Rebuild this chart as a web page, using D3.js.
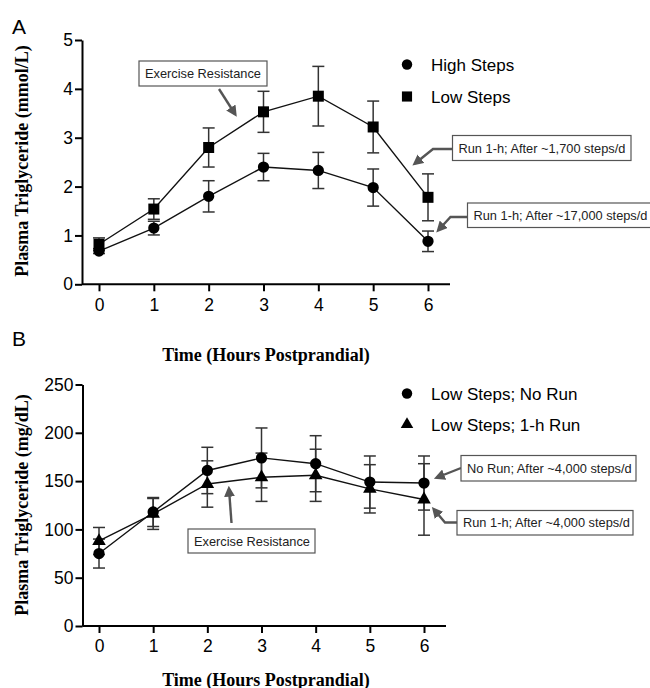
<!DOCTYPE html>
<html>
<head>
<meta charset="utf-8">
<script src="https://cdn.jsdelivr.net/npm/d3@7"></script>
<style>
  body { margin: 0; background: #fff; }
  svg { display: block; }
  .tick text { font-family: "Liberation Sans", Arial, sans-serif; font-size: 17.5px; fill: #000; }
  .axis path, .axis line { stroke: #000; stroke-width: 2; }
  .title { font-family: "Liberation Serif", "Times New Roman", serif; font-weight: bold; font-size: 18px; fill: #000; }
  .legend text { font-family: "Liberation Sans", Arial, sans-serif; font-size: 17px; fill: #000; }
  .note text { font-family: "Liberation Sans", Arial, sans-serif; font-size: 12.8px; fill: #222; }
  .panel { font-family: "Liberation Sans", Arial, sans-serif; font-size: 21px; fill: #000; }
</style>
</head>
<body>
<svg id="chart" width="650" height="688"></svg>
<script>
// hours after the meal
var hours = [0, 1, 2, 3, 4, 5, 6]

// panel A, mmol/L
var highSteps    = [0.68, 1.15, 1.80, 2.40, 2.33, 1.98, 0.88]
var highStepsErr = [0.05, 0.14, 0.32, 0.28, 0.37, 0.38, 0.21]
var lowSteps     = [0.82, 1.54, 2.80, 3.53, 3.85, 3.22, 1.78]
var lowStepsErr  = [0.13, 0.21, 0.40, 0.42, 0.61, 0.53, 0.48]
var ticksA = [0, 1, 2, 3, 4, 5]

// panel B, mg/dL
var noRun    = [75, 118, 161, 174, 168, 149, 148]
var noRunErr = [15, 15, 24, 31, 29, 27, 28]
var run1h    = [88, 116, 147, 154, 156, 142, 131]
var run1hErr = [14, 16, 24, 25, 27, 25, 37]
var ticksB = [0, 50, 100, 150, 200, 250]

var svg = d3.select("#chart")

svg.append("defs").append("marker")
    .attr("id", "head")
    .attr("viewBox", "0 0 10 10")
    .attr("refX", 7).attr("refY", 5)
    .attr("markerUnits", "userSpaceOnUse")
    .attr("markerWidth", 11).attr("markerHeight", 11)
    .attr("orient", "auto")
    .append("path")
    .attr("d", "M0,0L10,5L0,10z")
    .attr("fill", "#555")

var makeSeries = function(vals, errs)
{
    return hours.map(function(h, i) { return {h: h, v: vals[i], e: errs[i]} })
}

var drawPanel = function(p)
{
    var x = d3.scaleLinear().domain([0, 6]).range(p.xRange)
    var y = d3.scaleLinear().domain(p.yDomain).range(p.yRange)
    var g = svg.append("g")

    // x axis, the line runs from the y axis to a bit past 6
    var xa = g.append("g").classed("axis", true)
        .attr("transform", "translate(0," + p.yRange[0] + ")")
        .call(d3.axisBottom(x).tickValues(hours).tickFormat(d3.format("d"))
            .tickSize(7).tickPadding(7).tickSizeOuter(0))
    xa.select(".domain").attr("d", "M" + p.axisLeft + ",0H" + p.axisRight)

    g.append("g").classed("axis", true)
        .attr("transform", "translate(" + p.axisLeft + ",0)")
        .call(d3.axisLeft(y).tickValues(p.yTicks).tickFormat(d3.format("d"))
            .tickSize(7).tickPadding(2).tickSizeOuter(0))

    g.selectAll(".axis .tick text").attr("fill", "#000")

    var line = d3.line().x(function(d) { return x(d.h) }).y(function(d) { return y(d.v) })

    p.series.forEach(function(s)
    {
        var eb = g.append("g")
        eb.selectAll("line.v").data(s.data).enter().append("line")
            .attr("x1", function(d) { return x(d.h) }).attr("x2", function(d) { return x(d.h) })
            .attr("y1", function(d) { return y(d.v + d.e) }).attr("y2", function(d) { return y(d.v - d.e) })
            .attr("stroke", "#333").attr("stroke-width", 1.5)
        ;[1, -1].forEach(function(sign)
        {
            eb.selectAll(null).data(s.data).enter().append("line")
                .attr("x1", function(d) { return x(d.h) - 6 }).attr("x2", function(d) { return x(d.h) + 6 })
                .attr("y1", function(d) { return y(d.v + sign * d.e) }).attr("y2", function(d) { return y(d.v + sign * d.e) })
                .attr("stroke", "#333").attr("stroke-width", 1.5)
        })
    })

    p.series.forEach(function(s)
    {
        g.append("path").datum(s.data)
            .attr("d", line).attr("fill", "none")
            .attr("stroke", "#111").attr("stroke-width", 1.4)
    })

    p.series.forEach(function(s)
    {
        g.selectAll(null).data(s.data).enter().append("path")
            .attr("d", d3.symbol().type(s.symbol).size(s.size))
            .attr("transform", function(d) { return "translate(" + x(d.h) + "," + y(d.v) + ")" })
            .attr("fill", "#000")
    })

    // legend
    var lg = g.append("g").classed("legend", true)
    p.series.forEach(function(s, i)
    {
        var ly = p.legendY[i]
        lg.append("path")
            .attr("d", d3.symbol().type(s.symbol).size(s.size * 0.85))
            .attr("transform", "translate(407," + ly + ")")
        lg.append("text").text(s.name).attr("x", 431).attr("y", ly + 6)
    })

    // axis titles
    g.append("text").classed("title", true)
        .text("Time (Hours Postprandial)")
        .attr("text-anchor", "middle")
        .attr("x", 266).attr("y", p.xTitleY)
    g.append("text").classed("title", true)
        .text(p.yTitle)
        .attr("text-anchor", "middle")
        .attr("transform", "translate(28," + p.yTitleY + ") rotate(-90)")

    g.append("text").classed("panel", true)
        .text(p.label).attr("x", 12).attr("y", p.labelY)

    // callout boxes with arrows
    p.notes.forEach(function(n)
    {
        var ng = g.append("g").classed("note", true)
        ng.append("path")
            .attr("d", d3.line()(n.arrow))
            .attr("fill", "none").attr("stroke", "#555").attr("stroke-width", 2.4)
            .attr("marker-end", "url(#head)")
        ng.append("rect")
            .attr("x", n.box[0]).attr("y", n.box[1])
            .attr("width", n.box[2] - n.box[0]).attr("height", n.box[3] - n.box[1])
            .attr("fill", "#fff").attr("stroke", "#555").attr("stroke-width", 1.2)
        ng.append("text").text(n.text)
            .attr("x", n.box[0] + 6)
            .attr("y", (n.box[1] + n.box[3]) / 2 + 4.5)
    })
}

drawPanel({
    label: "A", labelY: 34,
    xRange: [99, 428], yRange: [284.3, 40], yDomain: [0, 5], yTicks: ticksA,
    axisLeft: 82, axisRight: 450,
    xTitleY: 360.5, yTitle: "Plasma Triglyceride (mmol/L)", yTitleY: 161,
    legendY: [64.5, 96.5],
    series: [
        {name: "High Steps", data: makeSeries(highSteps, highStepsErr), symbol: d3.symbolCircle, size: 100},
        {name: "Low Steps", data: makeSeries(lowSteps, lowStepsErr), symbol: d3.symbolSquare, size: 121}
    ],
    notes: [
        {text: "Exercise Resistance", box: [139, 61, 267, 86], arrow: [[219, 89], [235, 114]]},
        {text: "Run 1-h; After ~1,700 steps/d", box: [452.5, 135.5, 631, 160.5], arrow: [[452.5, 149], [433, 149], [415, 163.5]]},
        {text: "Run 1-h; After ~17,000 steps/d", box: [467.5, 203, 655, 227.5], arrow: [[467.5, 217], [450.5, 217], [438.5, 230]]}
    ]
})

drawPanel({
    label: "B", labelY: 346,
    xRange: [99, 424], yRange: [626, 384.5], yDomain: [0, 250], yTicks: ticksB,
    axisLeft: 82.5, axisRight: 446,
    xTitleY: 685.5, yTitle: "Plasma Triglyceride (mg/dL)", yTitleY: 505,
    legendY: [393.5, 424.5],
    series: [
        {name: "Low Steps; No Run", data: makeSeries(noRun, noRunErr), symbol: d3.symbolCircle, size: 100},
        {name: "Low Steps; 1-h Run", data: makeSeries(run1h, run1hErr), symbol: d3.symbolTriangle, size: 80}
    ],
    notes: [
        {text: "Exercise Resistance", box: [188, 529, 315, 553], arrow: [[231.5, 523], [229, 489]]},
        {text: "No Run; After ~4,000 steps/d", box: [461, 455.5, 636, 481], arrow: [[461, 468], [437, 477.5]]},
        {text: "Run 1-h; After ~4,000 steps/d", box: [457, 510.5, 633, 535], arrow: [[457, 522.5], [445, 522.5], [434, 509.5]]}
    ]
})
</script>
</body>
</html>
